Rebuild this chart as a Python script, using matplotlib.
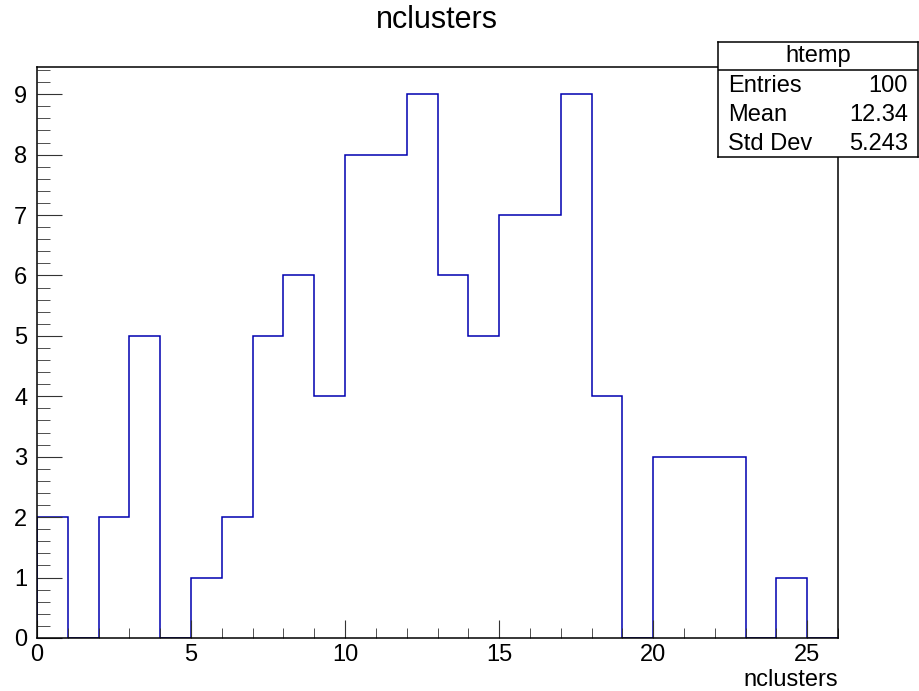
import matplotlib.pyplot as plt
from matplotlib.ticker import MultipleLocator

plt.rcParams['font.family'] = ['Liberation Sans', 'DejaVu Sans']

# bin contents of htemp (nclusters), one bin per integer value 0..25
edges = list(range(0, 27))
counts = [2, 0, 2, 5, 0, 1, 2, 5, 6, 4, 8, 8, 9, 6, 5, 7, 7, 9, 4, 0, 3, 3, 3, 0, 1, 0]
stat_names = ["Entries", "Mean", "Std Dev"]
stat_values = ["100", "12.34", "5.243"]

W, H = 920, 691
fig = plt.figure(figsize=(9.2, 6.91), dpi=100)
ax = fig.add_axes([37 / W, 1 - 638 / H, (838 - 37) / W, (638 - 67) / H])

ax.stairs(counts, edges, color="#0000b0", linewidth=1.1, baseline=0)
ax.set_xlim(0, 26)
ax.set_ylim(0, 9.45)

ax.xaxis.set_major_locator(MultipleLocator(5))
ax.xaxis.set_minor_locator(MultipleLocator(1))
ax.yaxis.set_major_locator(MultipleLocator(1))
ax.yaxis.set_minor_locator(MultipleLocator(0.2))
ax.tick_params(which="both", direction="in", top=False, right=False,
               labelsize=17, color="#333333")
ax.tick_params(axis="y", which="major", length=18, pad=7)
ax.tick_params(axis="y", which="minor", length=9)
ax.tick_params(axis="x", which="major", length=13, pad=4)
ax.tick_params(axis="x", which="minor", length=7)
for s in ax.spines.values():
    s.set_linewidth(1.1)

fig.text(437 / W, 1 - 20 / H, "nclusters", ha="center", va="center", fontsize=22)
fig.text(838 / W, 1 - 680 / H, "nclusters", ha="right", va="center", fontsize=17)

# stat box
box = fig.add_axes([718 / W, 1 - 157 / H, 200 / W, 115 / H])
box.set_xlim(0, 200)
box.set_ylim(115, 0)
box.set_xticks([])
box.set_yticks([])
for s in box.spines.values():
    s.set_linewidth(1.1)
box.axhline(28, color="black", linewidth=1.1)
box.text(100, 14, "htemp", ha="center", va="center", fontsize=17)
for i, (n, v) in enumerate(zip(stat_names, stat_values)):
    y = 44 + i * 29
    box.text(10, y, n, ha="left", va="center", fontsize=17)
    box.text(190, y, v, ha="right", va="center", fontsize=17)

fig.savefig("out.png", dpi=100)
